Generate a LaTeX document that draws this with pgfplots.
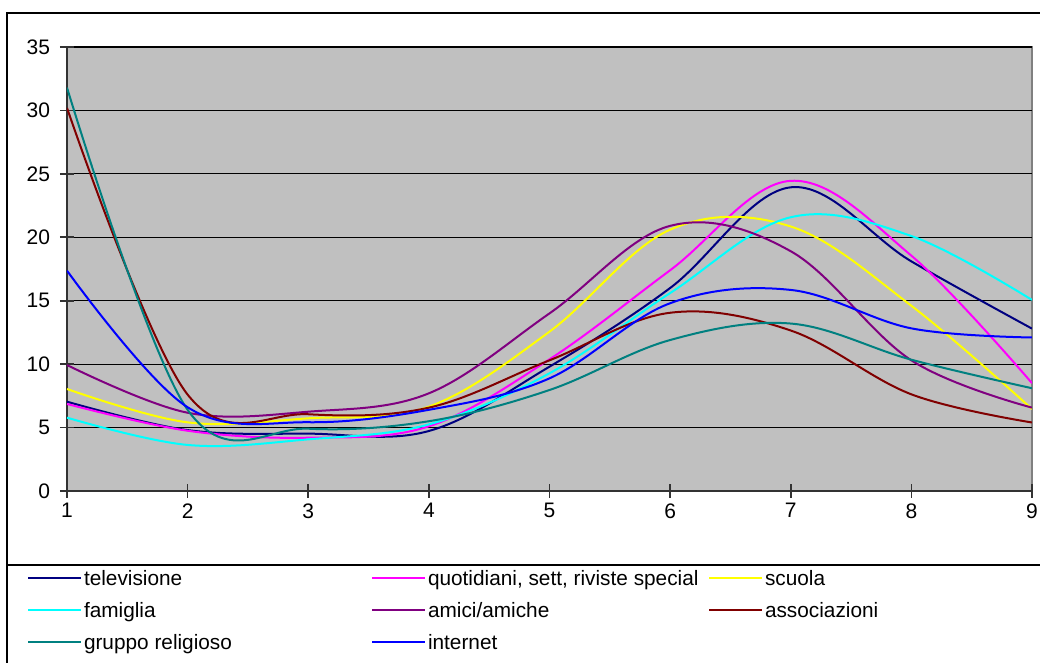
\documentclass[border=0pt]{standalone}
\usepackage{pgfplots}
\pgfplotsset{compat=1.18}
\usepackage{fontspec}
\setmainfont{Liberation Sans}
\definecolor{ctv}{HTML}{000080}
\definecolor{cquot}{HTML}{FF00FF}
\definecolor{cscuola}{HTML}{FFFF00}
\definecolor{cfam}{HTML}{00FFFF}
\definecolor{camici}{HTML}{800080}
\definecolor{cassoc}{HTML}{800000}
\definecolor{cgruppo}{HTML}{008080}
\definecolor{cinternet}{HTML}{0000FF}
\definecolor{plotgray}{HTML}{C0C0C0}
\begin{document}
\fontsize{10.4pt}{12pt}\selectfont
\begin{tikzpicture}
\useasboundingbox (0,0) rectangle (520pt,331.5pt);
\draw[line width=0.7pt] (3.5pt,325pt) rectangle (530pt,-10pt);
\draw[line width=0.7pt] (3.5pt,49pt) rectangle (530pt,-10pt);
\begin{axis}[
  at={(33.5pt,86pt)}, anchor=south west,
  scale only axis, width=482.5pt, height=222pt,
  xmin=1, xmax=9, ymin=0, ymax=35,
  xtick={1,...,9}, ytick={0,5,...,35},
  axis background/.style={fill=plotgray, draw=gray, line width=0.8pt},
  ymajorgrids, grid style={black, line width=0.55pt},
  axis x line*=bottom, axis y line*=left,
  axis line style={line width=1pt, black!80, -},
  tick align=center, major tick length=7pt,
  tick style={black!80, line width=0.8pt},
  /pgf/number format/assume math mode=true,
  ticklabel style={font=\fontsize{10.5pt}{12pt}\selectfont},
  xticklabel style={inner sep=0pt, yshift=-2.5pt},
  yticklabel style={inner sep=0pt, xshift=-4.8pt},
  every axis plot/.append style={line width=1pt, smooth, tension=0.6, no markers},
  legend columns=3,
  legend cell align=left,
  legend style={at={(-0.04145,-0.17568)}, anchor=north west, draw=none, fill=none,
    inner sep=0pt, outer sep=0pt, row sep=4pt, column sep=0pt,
    nodes={inner sep=1pt, text height=7.5pt, text depth=2.5pt, anchor=west},
    font=\fontsize{10.4pt}{12pt}\selectfont},
  legend image code/.code={\draw[#1, line width=1pt] (0pt,1.5pt) -- (26.5pt,1.5pt);},
]
\addplot[ctv] coordinates {(1,7.04) (2,4.8) (3,4.52) (4,4.73) (5,9.8) (6,16.0) (7,23.94) (8,18.1) (9,12.8)};
\addlegendentry{\makebox[142.5pt][l]{televisione}}
\addplot[cquot] coordinates {(1,6.86) (2,4.75) (3,4.2) (4,5.1) (5,10.38) (6,17.4) (7,24.45) (8,18.55) (9,8.5)};
\addlegendentry{\makebox[139pt][l]{quotidiani, sett, riviste special}}
\addplot[cscuola] coordinates {(1,8.04) (2,5.41) (3,5.73) (4,6.65) (5,12.56) (6,20.6) (7,20.85) (8,14.6) (9,6.46)};
\addlegendentry{scuola}
\addplot[cfam] coordinates {(1,5.78) (2,3.63) (3,4.07) (4,5.25) (5,9.28) (6,15.6) (7,21.58) (8,20.1) (9,15.06)};
\addlegendentry{\makebox[142.5pt][l]{famiglia}}
\addplot[camici] coordinates {(1,9.93) (2,6.17) (3,6.25) (4,7.7) (5,14.0) (6,20.9) (7,18.9) (8,10.3) (9,6.57)};
\addlegendentry{\makebox[139pt][l]{amici/amiche}}
\addplot[cassoc] coordinates {(1,30.2) (2,7.6) (3,6.05) (4,6.57) (5,10.3) (6,14.05) (7,12.65) (8,7.62) (9,5.4)};
\addlegendentry{associazioni}
\addplot[cgruppo] coordinates {(1,31.8) (2,6.4) (3,4.91) (4,5.5) (5,7.96) (6,11.9) (7,13.2) (8,10.35) (9,8.1)};
\addlegendentry{\makebox[142.5pt][l]{gruppo religioso}}
\addplot[cinternet] coordinates {(1,17.37) (2,6.6) (3,5.42) (4,6.4) (5,8.88) (6,14.8) (7,15.85) (8,12.82) (9,12.1)};
\addlegendentry{\makebox[139pt][l]{internet}}
\end{axis}
\end{tikzpicture}
\end{document}
